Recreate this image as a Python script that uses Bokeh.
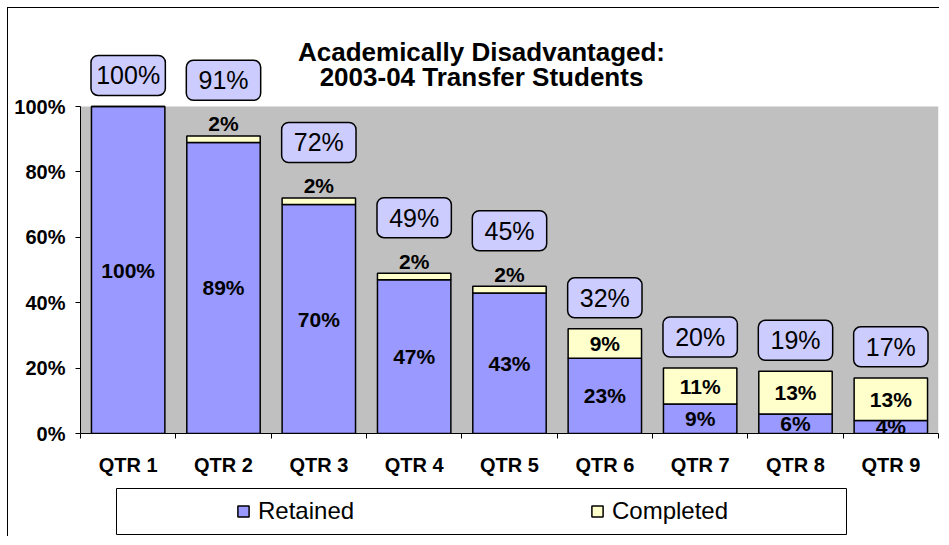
from bokeh.plotting import figure
from bokeh.models import (ColumnDataSource, FixedTicker, BoxAnnotation, Label, Legend,
                          LegendItem, Range1d, PrintfTickFormatter)
from bokeh.layouts import column
from bokeh.core.properties import value
from bokeh.embed import file_html
from bokeh.resources import INLINE

# ---------------- data ----------------
categories = ["QTR 1", "QTR 2", "QTR 3", "QTR 4", "QTR 5", "QTR 6", "QTR 7", "QTR 8", "QTR 9"]
retained = [100, 89, 70, 47, 43, 23, 9, 6, 4]
completed = [0, 2, 2, 2, 2, 9, 11, 13, 13]
totals = [100, 91, 72, 49, 45, 32, 20, 19, 17]
y_ticks = [0, 20, 40, 60, 80, 100]
title_lines = ["Academically Disadvantaged:", "2003-04 Transfer Students"]
series_names = ["Retained", "Completed"]

# ---------------- styles ----------------
FONT = "Liberation Sans"
C_RET = "#9999FF"
C_COMP = "#FFFFCC"
C_BOX = "#CCCCFF"
C_PLOT = "#C0C0C0"
PX_PER_PCT = 3.27
FRAME_W = 858
FRAME_H = 413
FRAME_LEFT_PX = 80          # page x of the plot frame's left edge
BAR_W = 0.77
BOX_W = 0.78
BOX_H = 40 / PX_PER_PCT
N = len(categories)
PX_PER_CAT = FRAME_W / N

xs = list(range(1, N + 1))

# stacked bar source
src = ColumnDataSource(dict(
    x=xs,
    ret=retained,
    top=[r + c for r, c in zip(retained, completed)],
    ret_lbl=[f"{r}%" for r in retained],
    ret_y=[r / 2 for r in retained],
))

# completed labels (skip zero)
cx, cy, ct = [], [], []
for xi, r, c in zip(xs, retained, completed):
    if c <= 0:
        continue
    cx.append(xi)
    if c < 5:
        cy.append(r + c + 3.7)
    else:
        cy.append(r + c / 2)
    ct.append(f"{c}%")
comp_src = ColumnDataSource(dict(x=cx, y=cy, text=ct))

# total boxes
bc = []
for t, c in zip(totals, completed):
    off = 17 if 0 < c < 5 else 9.5
    bc.append(t + off)
box_src = ColumnDataSource(dict(
    x=xs,
    yc=bc,
    bottom=[b - BOX_H / 2 for b in bc],
    top=[b + BOX_H / 2 for b in bc],
    text=[f"{t}%" for t in totals],
))

# ---------------- main figure ----------------
p = figure(frame_width=FRAME_W, frame_height=FRAME_H,
           min_border_left=72, min_border_right=1, min_border_top=12, min_border_bottom=47,
           x_range=Range1d(0.5, N + 0.5),
           y_range=Range1d(0, FRAME_H / PX_PER_PCT),
           output_backend="svg", toolbar_location=None)
p.xgrid.visible = False
p.ygrid.visible = False
p.outline_line_color = None
p.background_fill_color = "white"
p.border_fill_color = "white"

p.add_layout(BoxAnnotation(bottom=0, top=100, fill_color=C_PLOT, fill_alpha=1,
                           line_color=None, level="underlay"))

p.vbar(x="x", bottom=0, top="ret", width=BAR_W, source=src,
       fill_color=C_RET, line_color="black", line_width=1.5)
p.vbar(x="x", bottom="ret", top="top", width=BAR_W, source=src,
       fill_color=C_COMP, line_color="black", line_width=1.5)

p.text(x="x", y="ret_y", text="ret_lbl", source=src,
       text_font=value(FONT), text_font_size="21px", text_font_style="bold",
       text_align="center", text_baseline="middle", text_color="black")
p.text(x="x", y="y", text="text", source=comp_src,
       text_font=value(FONT), text_font_size="21px", text_font_style="bold",
       text_align="center", text_baseline="middle", text_color="black")

p.vbar(x="x", bottom="bottom", top="top", width=BOX_W, source=box_src,
       fill_color=C_BOX, line_color="black", line_width=1.5, border_radius=7)
p.text(x="x", y="yc", text="text", source=box_src,
       text_font=value(FONT), text_font_size="25px",
       text_align="center", text_baseline="middle", text_color="black")

# title
title_x = 0.5 + (481 - FRAME_LEFT_PX) / PX_PER_CAT
for i, line in enumerate(title_lines):
    p.add_layout(Label(x=title_x, y=(433 - 51 - 25 * i) / PX_PER_PCT, text=line,
                       text_align="center", text_baseline="middle",
                       text_font=FONT, text_font_size="26px", text_font_style="bold",
                       text_color="black"))

# axes
xa = p.xaxis[0]
xa.ticker = FixedTicker(ticks=xs, minor_ticks=[i + 0.5 for i in range(N + 1)])
xa.major_label_overrides = {xi: c for xi, c in zip(xs, categories)}
xa.major_tick_out = 0
xa.major_tick_in = 0
xa.minor_tick_out = 5
xa.minor_tick_in = 0
xa.minor_tick_line_color = "black"
xa.axis_line_color = "black"
xa.major_label_standoff = 15
xa.major_label_text_font = FONT
xa.major_label_text_font_size = "20px"
xa.major_label_text_font_style = "bold"
xa.major_label_text_color = "black"

ya = p.yaxis[0]
ya.ticker = FixedTicker(ticks=y_ticks, minor_ticks=[])
ya.formatter = PrintfTickFormatter(format="%d%%")
ya.bounds = (0, 100)
ya.major_tick_out = 5
ya.major_tick_in = 0
ya.minor_tick_out = 0
ya.minor_tick_in = 0
ya.major_tick_line_color = "black"
ya.axis_line_color = "black"
ya.major_label_standoff = 10
ya.major_label_text_font = FONT
ya.major_label_text_font_size = "20px"
ya.major_label_text_font_style = "bold"
ya.major_label_text_color = "black"

# ---------------- legend figure ----------------
LEG_FRAME_H = 50
p2 = figure(frame_width=FRAME_W, frame_height=LEG_FRAME_H,
            min_border_left=72, min_border_right=1, min_border_top=6, min_border_bottom=0,
            x_range=Range1d(0.5, N + 0.5), y_range=Range1d(0, 1),
            x_axis_location=None, y_axis_location=None,
            output_backend="svg", toolbar_location=None)
p2.grid.visible = False
p2.outline_line_color = None
p2.background_fill_color = "white"
p2.border_fill_color = "white"

# legend frame box (page x 116 .. 846)
p2.add_layout(BoxAnnotation(left=0.5 + (116 - FRAME_LEFT_PX) / PX_PER_CAT,
                            right=0.5 + (846 - FRAME_LEFT_PX) / PX_PER_CAT,
                            bottom=2 / LEG_FRAME_H, top=(LEG_FRAME_H - 2) / LEG_FRAME_H,
                            fill_color="white", fill_alpha=1,
                            line_color="black", line_width=1, line_alpha=1,
                            level="underlay"))

# swatch renderers (hidden; only their legend swatches are shown)
r_ret = p2.vbar(x=[-10], top=[0.5], width=0.5, fill_color=C_RET, line_color="black",
                line_width=1.5, visible=False)
r_comp = p2.vbar(x=[-10], top=[0.5], width=0.5, fill_color=C_COMP, line_color="black",
                 line_width=1.5, visible=False)
legend = Legend(items=[LegendItem(label=series_names[0], renderers=[r_ret]),
                       LegendItem(label=series_names[1], renderers=[r_comp])],
                location=(236 - FRAME_LEFT_PX, 11), orientation="horizontal",
                glyph_width=14, glyph_height=14, label_standoff=8,
                label_width=110, spacing=222, padding=0, margin=0,
                label_text_font=FONT, label_text_font_size="24px", label_text_color="black",
                inactive_fill_alpha=0,
                border_line_color=None, background_fill_alpha=0)
p2.add_layout(legend)

layout = column(p, p2, styles={"margin-left": "7px", "margin-top": "7px",
                               "border-left": "1px solid black", "border-top": "1px solid black"})

open("out.html", "w").write(file_html(layout, INLINE))
